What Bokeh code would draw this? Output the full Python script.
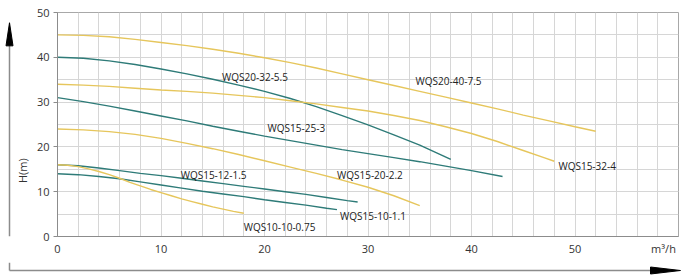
from bokeh.plotting import figure
from bokeh.models import Range1d, FixedTicker, Label
from bokeh.layouts import row, column
from bokeh.embed import file_html
from bokeh.resources import INLINE

# ---- data (flow Q in m3/h, head H in m) ----
q_20_40_75 = [0, 2.5, 5, 7.5, 10, 12.5, 15, 17.5, 20, 22.5, 25, 27.5, 30, 32.5, 35, 37.5, 40, 42.5, 45, 47.5, 50, 52]
h_20_40_75 = [45, 44.9, 44.6, 44.0, 43.3, 42.6, 41.8, 40.9, 39.9, 38.8, 37.6, 36.3, 35.0, 33.7, 32.4, 31.1, 29.8, 28.5, 27.1, 25.8, 24.5, 23.5]

q_20_32_55 = [0, 2.5, 5, 7.5, 10, 12.5, 15, 17.5, 20, 22.5, 25, 27.5, 30, 32.5, 35, 37, 38]
h_20_32_55 = [40, 39.8, 39.2, 38.4, 37.4, 36.3, 35.1, 33.8, 32.4, 30.8, 29.0, 27.0, 24.9, 22.7, 20.4, 18.3, 17.2]

q_15_32_4 = [0, 2.5, 5, 7.5, 10, 12.5, 15, 17.5, 20, 22.5, 25, 27.5, 30, 32.5, 35, 37.5, 40, 42.5, 45, 47, 48]
h_15_32_4 = [34, 33.8, 33.5, 33.1, 32.7, 32.4, 32.0, 31.5, 31.0, 30.3, 29.6, 28.8, 28.0, 27.0, 25.9, 24.5, 23.0, 21.2, 19.2, 17.6, 16.8]

q_15_25_3 = [0, 2.5, 5, 7.5, 10, 12.5, 15, 17.5, 20, 22.5, 25, 27.5, 30, 32.5, 35, 37.5, 40, 43]
h_15_25_3 = [31, 30.1, 29.1, 28.0, 26.9, 25.8, 24.6, 23.5, 22.4, 21.4, 20.4, 19.4, 18.5, 17.6, 16.7, 15.7, 14.7, 13.4]

q_15_20_22 = [0, 2.5, 5, 7.5, 10, 12.5, 15, 17.5, 20, 22.5, 25, 27.5, 30, 32.5, 35]
h_15_20_22 = [24, 23.8, 23.4, 22.8, 21.9, 20.8, 19.6, 18.3, 16.9, 15.5, 14.1, 12.6, 11.0, 9.1, 6.9]

q_15_12_15 = [0, 2, 4, 6, 8, 10, 12, 14, 16, 18, 20, 22, 24, 26, 28, 29]
h_15_12_15 = [16, 15.8, 15.3, 14.7, 14.1, 13.6, 13.0, 12.4, 11.8, 11.2, 10.6, 10.0, 9.4, 8.7, 8.0, 7.7]

q_15_10_11 = [0, 2, 4, 6, 8, 10, 12, 14, 16, 18, 20, 22, 24, 26, 27]
h_15_10_11 = [14, 13.8, 13.4, 12.9, 12.2, 11.5, 10.8, 10.1, 9.5, 8.9, 8.2, 7.6, 7.0, 6.3, 6.0]

q_10_10_075 = [0, 1, 2, 3, 4, 5, 6, 7, 8, 9, 10, 11, 12, 13, 14, 15, 16, 17, 18]
h_10_10_075 = [16, 15.9, 15.6, 15.1, 14.5, 13.8, 13.0, 12.1, 11.3, 10.5, 9.8, 9.1, 8.4, 7.8, 7.2, 6.6, 6.1, 5.6, 5.2]

curve_names = ["WQS20-40-7.5", "WQS20-32-5.5", "WQS15-32-4", "WQS15-25-3",
               "WQS15-20-2.2", "WQS15-12-1.5", "WQS15-10-1.1", "WQS10-10-0.75"]
curve_q = [q_20_40_75, q_20_32_55, q_15_32_4, q_15_25_3,
           q_15_20_22, q_15_12_15, q_15_10_11, q_10_10_075]
curve_h = [h_20_40_75, h_20_32_55, h_15_32_4, h_15_25_3,
           h_15_20_22, h_15_12_15, h_15_10_11, h_10_10_075]
curve_kind = ["y", "t", "y", "t", "y", "t", "t", "y"]

# label anchor (left edge, vertical middle) in data coordinates
label_q = [34.6, 15.9, 48.4, 20.3, 27.0, 11.9, 27.3, 18.0]
label_h = [34.8, 35.7, 15.8, 24.3, 13.8, 13.8, 4.5, 2.2]

x_ticks = [0, 10, 20, 30, 40, 50]
y_ticks = [0, 10, 20, 30, 40, 50]
x_grid_minor = list(range(0, 61, 2))
y_grid_minor = list(range(0, 51, 5))
x_unit_pos = 58.55
x_label = "m³/h"
y_label = "H(m)"

YELLOW = "#E6C65C"
TEAL = "#2E7B78"
FONT = "Open Sans"
GRAY = "#8C8C8C"
W, H = 685, 276
LEFT_W, BOTTOM_H = 30, 14
MAIN_W, MAIN_H = W - LEFT_W, H - BOTTOM_H

# ---------------- main chart ----------------
p = figure(width=MAIN_W, height=MAIN_H, output_backend="svg", toolbar_location=None,
           x_range=Range1d(0, 60), y_range=Range1d(0, 50),
           min_border_left=57 - LEFT_W, min_border_right=7, min_border_top=12,
           min_border_bottom=MAIN_H - 236)
p.background_fill_color = None
p.border_fill_color = None
p.outline_line_color = "#A8A8A8"
p.outline_line_width = 1

x_axis_ticks = x_ticks + [x_unit_pos]
p.xaxis.ticker = FixedTicker(ticks=x_axis_ticks)
p.xaxis.major_label_overrides = {x_unit_pos: x_label}
p.yaxis.ticker = FixedTicker(ticks=y_ticks)
for ax in (p.xaxis[0], p.yaxis[0]):
    ax.axis_line_color = GRAY
    ax.major_tick_line_color = GRAY
    ax.minor_tick_line_color = None
    ax.major_label_text_font = FONT
    ax.major_label_text_font_size = "11px"
    ax.major_label_text_color = "#333333"
p.xaxis.major_tick_out = 0
p.xaxis.major_tick_in = 0
p.xaxis.major_label_standoff = 4
p.yaxis.major_tick_out = 4
p.yaxis.major_tick_in = 0
p.yaxis.major_label_standoff = 4

p.xgrid[0].ticker = FixedTicker(ticks=x_ticks, minor_ticks=x_grid_minor)
p.ygrid[0].ticker = FixedTicker(ticks=y_ticks, minor_ticks=y_grid_minor)
for g in (p.xgrid[0], p.ygrid[0]):
    g.grid_line_color = "#D6D6D6"
    g.minor_grid_line_color = "#D6D6D6"
    g.grid_line_width = 1
    g.minor_grid_line_width = 1

for qs, hs, kind in zip(curve_q, curve_h, curve_kind):
    p.line(qs, hs, line_color=YELLOW if kind == "y" else TEAL, line_width=1.4)

for name, lq, lh in zip(curve_names, label_q, label_h):
    p.add_layout(Label(x=lq, y=lh, text=name, text_font=FONT, text_font_size="10px",
                       text_color="#222222", text_baseline="middle", text_align="left"))

# ---------------- left strip: vertical arrow + y title ----------------
def strip(w, h):
    s = figure(width=w, height=h, output_backend="svg", toolbar_location=None,
               x_range=Range1d(0, w), y_range=Range1d(h, 0),
               x_axis_type=None, y_axis_type=None,
               min_border_left=0, min_border_right=0, min_border_top=0, min_border_bottom=0)
    s.grid.visible = False
    s.outline_line_color = None
    s.background_fill_color = None
    s.border_fill_color = None
    return s

left = strip(LEFT_W, MAIN_H)
left.line([9, 9], [30, MAIN_H], line_color=GRAY, line_width=1.5)
left.patch([5.5, 9, 12.5], [39, 12, 39], fill_color="black", line_color="black")
left.text([22], [185], text=[y_label], angle=1.5708, text_font={"value": FONT},
          text_font_size="11px", text_color="#333333", text_align="center",
          text_baseline="middle")

# ---------------- bottom strip: horizontal arrow ----------------
bottom = strip(W, BOTTOM_H)
bottom.line([9, 9], [0, 8], line_color=GRAY, line_width=1.5)
bottom.line([9, 655], [8, 8], line_color=GRAY, line_width=1.5)
bottom.patch([650, 680, 650], [4.5, 8, 11.5], fill_color="black", line_color="black")

layout = column(row(left, p, spacing=0), bottom, spacing=0)
open("out.html", "w").write(file_html(layout, INLINE))
